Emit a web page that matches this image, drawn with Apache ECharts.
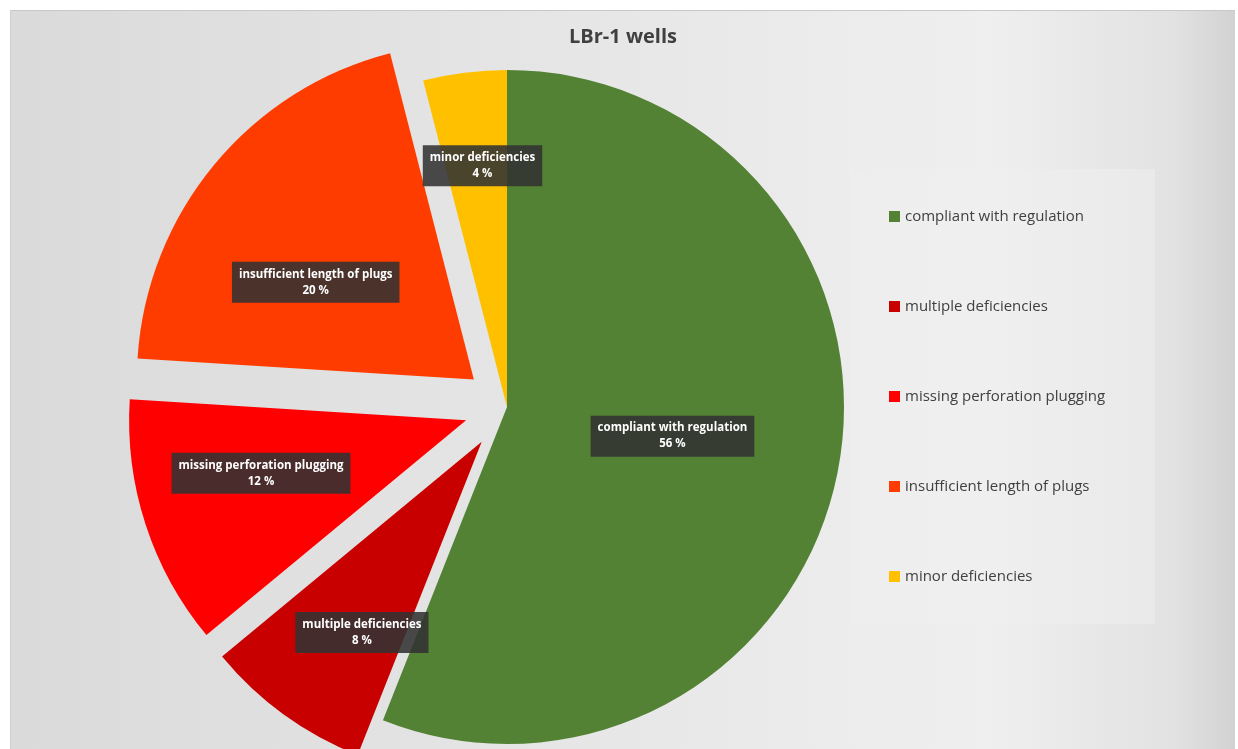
<!DOCTYPE html>
<html>
<head>
<meta charset="utf-8">
<title>LBr-1 wells</title>
<script src="https://cdn.jsdelivr.net/npm/echarts@6/dist/echarts.min.js"></script>
<style>
  html, body { margin: 0; padding: 0; background: #ffffff; overflow: hidden; }
  #chart { position: absolute; left: 10px; top: 10px; width: 1224px; height: 745px; border-top: 1px solid #c8c8c8; border-left: 1px solid #d0d0d0; }
</style>
</head>
<body>
<div id="chart"></div>
<script>
// Well categories and their shares (percent)
const categories = [
  'compliant with regulation',
  'multiple deficiencies',
  'missing perforation plugging',
  'insufficient length of plugs',
  'minor deficiencies'
];
const shares = [56, 8, 12, 20, 4];
const colors = ['#548235', '#C80000', '#FF0000', '#FF3C00', '#FFC000'];
// Slices pulled away from the pie
const exploded = [false, true, true, true, false];

// Label nudges from the default inside position, per slice
const labelNudge = [[-3, -3], [-19, 52], [-42, 0], [-26, 12], [-3, -71]];

const chart = echarts.init(document.getElementById('chart'));

const data = categories.map((name, i) => ({
  name: name,
  value: shares[i],
  selected: exploded[i],
  itemStyle: { color: colors[i] }
}));

chart.setOption({
  backgroundColor: new echarts.graphic.LinearGradient(0, 0, 1, 0, [
    { offset: 0, color: '#dadada' },
    { offset: 0.45, color: '#e6e6e6' },
    { offset: 0.8, color: '#efefef' },
    { offset: 0.95, color: '#e2e2e2' },
    { offset: 1, color: '#d2d2d2' }
  ]),
  animation: false,
  title: {
    text: 'LBr-1 wells',
    left: 'center',
    top: 11,
    textStyle: { fontFamily: 'Open Sans', fontSize: 20, fontWeight: 'bold', color: '#404040' }
  },
  legend: {
    orient: 'vertical',
    left: 838,
    top: 158,
    padding: [40, 50, 40, 40],
    backgroundColor: 'rgba(240,240,240,0.5)',
    itemGap: 75,
    itemWidth: 11,
    itemHeight: 11,
    icon: 'rect',
    itemStyle: { borderWidth: 0 },
    textStyle: { fontFamily: 'Open Sans', fontSize: 15, color: '#404040', padding: [0, 0, 0, 0] },
    data: categories
  },
  series: [{
    type: 'pie',
    center: [496, 396],
    radius: 337,
    startAngle: 90,
    clockwise: true,
    selectedMode: 'multiple',
    selectedOffset: 43,
    avoidLabelOverlap: false,
    emphasis: { disabled: true },
    label: {
      show: true,
      position: 'inside',
      formatter: p => p.name + '\n' + p.value + ' %',
      fontFamily: 'Open Sans',
      fontSize: 11.5,
      fontWeight: 'bold',
      color: '#ffffff',
      lineHeight: 16,
      backgroundColor: 'rgba(50,50,50,0.88)',
      padding: [5, 7, 4, 7],
      align: 'center'
    },
    labelLine: { show: false },
    labelLayout: function (params) {
      const n = labelNudge[params.dataIndex];
      return { dx: n[0], dy: n[1] };
    },
    data: data
  }]
});
</script>
</body>
</html>
